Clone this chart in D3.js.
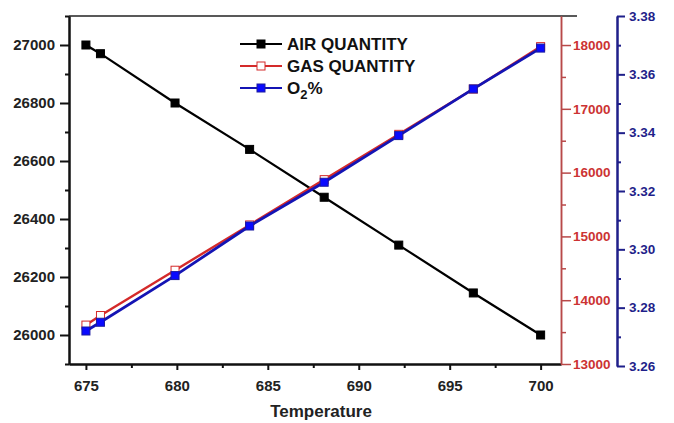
<!DOCTYPE html>
<html>
<head>
<meta charset="utf-8">
<script src="https://cdn.jsdelivr.net/npm/d3@7"></script>
<style>
  body { margin: 0; background: #fff; }
  text { font-family: "Liberation Sans", Arial, sans-serif; font-weight: bold; }
</style>
</head>
<body>
<div id="chart"></div>
<script>
// temperature readings and the three measured series
var temperature = [675, 675.8, 679.9, 684, 688.1, 692.2, 696.3, 700];
var airQuantity = [27000, 26970, 26800, 26640, 26475, 26310, 26145, 26000];
var gasQuantity = [13610, 13760, 14470, 15180, 15890, 16600, 17310, 17975];
var o2Percent = [3.272, 3.275, 3.291, 3.308, 3.323, 3.339, 3.355, 3.369];

var xTicks = [675, 680, 685, 690, 695, 700];
var airTicks = [26000, 26200, 26400, 26600, 26800, 27000];
var gasTicks = [13000, 14000, 15000, 16000, 17000, 18000];
var o2Ticks = [3.26, 3.28, 3.30, 3.32, 3.34, 3.36, 3.38];

var legendNames = ["AIR QUANTITY", "GAS QUANTITY", "O2%"];

var width = 674, height = 423;
var plot = { left: 69, right: 561, top: 16, bottom: 364 };

var RED = "#cc3333", RED_AXIS = "#b84848", NAVY = "#1f1f8a";

var svg = d3.select("#chart").append("svg")
  .attr("width", width)
  .attr("height", height);

var x = d3.scaleLinear().domain([674.07, 701.12]).range([plot.left, plot.right]);
var yAir = d3.scaleLinear().domain([25900, 27100]).range([plot.bottom, plot.top]);
var yGas = d3.scaleLinear().domain([13000, 18455]).range([plot.bottom, plot.top]);
var yO2 = d3.scaleLinear().domain([3.26, 3.38]).range([366, 16]);

function styleAxis(g, color, size, w) {
  g.select(".domain").attr("stroke", color).attr("stroke-width", w);
  g.selectAll(".tick line").attr("stroke", color).attr("stroke-width", w);
  g.selectAll(".tick text").attr("fill", color).style("font-size", size + "px");
}

// top frame line
svg.append("line")
  .attr("x1", plot.left).attr("x2", 577)
  .attr("y1", plot.top).attr("y2", plot.top)
  .attr("stroke", "#222").attr("stroke-width", 1.5);

// bottom axis: minor then major ticks
svg.append("g")
  .attr("transform", "translate(0," + plot.bottom + ")")
  .call(d3.axisBottom(x).tickValues(d3.range(677.5, 700, 5)).tickSize(4).tickFormat("").tickSizeOuter(0))
  .call(function (g) { styleAxis(g, "#111", 15, 2); });
svg.append("g")
  .attr("transform", "translate(0," + plot.bottom + ")")
  .call(d3.axisBottom(x).tickValues(xTicks).tickSize(6).tickPadding(10).tickSizeOuter(0))
  .call(function (g) { styleAxis(g, "#111", 15, 2); g.selectAll(".tick text").attr("fill", "#222"); });

// left axis for air quantity
svg.append("g")
  .attr("transform", "translate(" + plot.left + ",0)")
  .call(d3.axisLeft(yAir).tickValues(d3.range(25900, 27101, 200)).tickSize(4).tickFormat("").tickSizeOuter(0))
  .call(function (g) { styleAxis(g, "#111", 15, 2); });
svg.append("g")
  .attr("transform", "translate(" + plot.left + ",0)")
  .call(d3.axisLeft(yAir).tickValues(airTicks).tickSize(9).tickPadding(5).tickFormat(d3.format("d")).tickSizeOuter(0))
  .call(function (g) { styleAxis(g, "#111", 15, 2); g.selectAll(".tick text").attr("fill", "#222"); });

// right axis for gas quantity
svg.append("g")
  .attr("transform", "translate(" + plot.right + ",0)")
  .call(d3.axisRight(yGas).tickValues(d3.range(13500, 18455, 1000)).tickSize(5).tickFormat("").tickSizeOuter(0))
  .call(function (g) { styleAxis(g, RED_AXIS, 13.5, 1.5); });
svg.append("g")
  .attr("transform", "translate(" + plot.right + ",0)")
  .call(d3.axisRight(yGas).tickValues(gasTicks).tickSize(10).tickPadding(2).tickFormat(d3.format("d")).tickSizeOuter(0))
  .call(function (g) { styleAxis(g, RED_AXIS, 13.5, 1.5); g.selectAll(".tick text").attr("fill", RED); });

// outer right axis for O2 percentage
svg.append("g")
  .attr("transform", "translate(617,0)")
  .call(d3.axisRight(yO2).tickValues(d3.range(3.27, 3.38, 0.02)).tickSize(4).tickFormat("").tickSizeOuter(0))
  .call(function (g) { styleAxis(g, NAVY, 13.5, 2); });
svg.append("g")
  .attr("transform", "translate(617,0)")
  .call(d3.axisRight(yO2).tickValues(o2Ticks).tickSize(8).tickPadding(4).tickFormat(d3.format(".2f")).tickSizeOuter(0))
  .call(function (g) { styleAxis(g, NAVY, 13.5, 2); });

// x axis title
svg.append("text")
  .attr("x", 321).attr("y", 417)
  .attr("text-anchor", "middle")
  .style("font-size", "17px")
  .attr("fill", "#222")
  .text("Temperature");

var series = [
  { values: airQuantity, y: yAir, line: "#000", width: 2.2, fill: "#000", stroke: "#000" },
  { values: gasQuantity, y: yGas, line: "#d42a2a", width: 2.4, fill: "#fff", stroke: "#d42a2a" },
  { values: o2Percent, y: yO2, line: "#1414b4", width: 2.8, fill: "#0a0aff", stroke: "#1a1aa0" }
];

var ms = 8;

series.forEach(function (s) {
  var line = d3.line()
    .x(function (d, i) { return x(temperature[i]); })
    .y(function (d) { return s.y(d); });

  svg.append("path")
    .datum(s.values)
    .attr("fill", "none")
    .attr("stroke", s.line)
    .attr("stroke-width", s.width)
    .attr("d", line);

  svg.selectAll(null)
    .data(s.values)
    .enter().append("rect")
    .attr("x", function (d, i) { return x(temperature[i]) - ms / 2; })
    .attr("y", function (d) { return s.y(d) - ms / 2; })
    .attr("width", ms).attr("height", ms)
    .attr("fill", s.fill)
    .attr("stroke", s.stroke)
    .attr("stroke-width", 1);
});

// legend
var legend = svg.append("g").attr("transform", "translate(240,44)");
legendNames.forEach(function (name, i) {
  var s = series[i];
  var row = legend.append("g").attr("transform", "translate(0," + (i * 22) + ")");
  row.append("line")
    .attr("x1", 0).attr("x2", 42)
    .attr("stroke", s.line).attr("stroke-width", 2);
  row.append("rect")
    .attr("x", 21 - 4).attr("y", -4)
    .attr("width", 8).attr("height", 8)
    .attr("fill", s.fill).attr("stroke", s.stroke).attr("stroke-width", 1);
  var t = row.append("text")
    .attr("x", 47).attr("y", 6)
    .style("font-size", "17px")
    .attr("fill", "#111");
  if (name === "O2%") {
    t.append("tspan").text("O");
    t.append("tspan").attr("dy", 5).style("font-size", "13px").text("2");
    t.append("tspan").attr("dy", -5).text("%");
  } else {
    t.text(name);
  }
});
</script>
</body>
</html>
